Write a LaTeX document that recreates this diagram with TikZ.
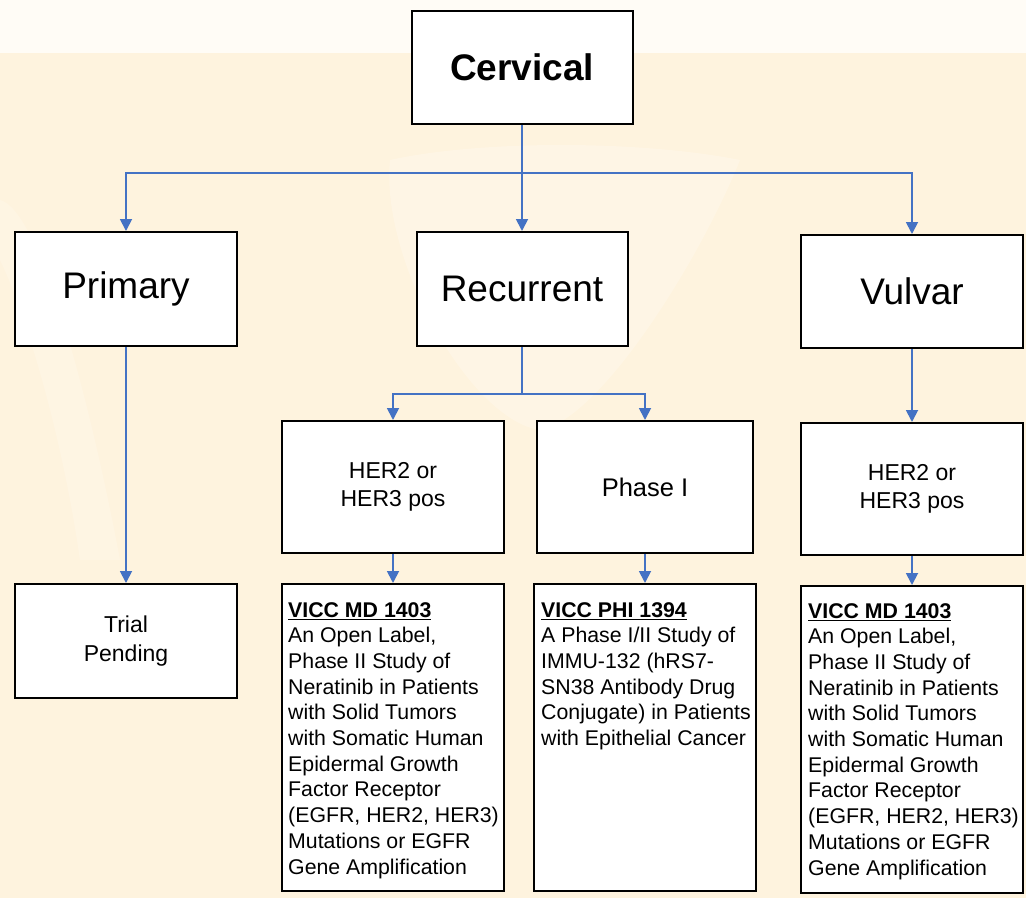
\documentclass[tikz,border=0pt]{standalone}
\usepackage{fontspec}
\setmainfont{Liberation Sans}
\usetikzlibrary{arrows.meta}
\definecolor{bgbeige}{HTML}{FEF3DE}
\definecolor{bgtop}{HTML}{FFFCF6}
\definecolor{connblue}{HTML}{4472C4}
\begin{document}
\begin{tikzpicture}[x=1pt,y=-1pt,
  box/.style={draw=black, line width=2pt, fill=white, inner sep=0pt, align=center},
  conn/.style={draw=connblue, line width=1.8pt, -{Triangle[length=12pt,width=12pt]}},
  bigtxt/.style={font=\fontsize{37}{44}\selectfont},
  midtxt/.style={font=\fontsize{23}{28.6}\selectfont},
  bodytxt/.style={font=\fontsize{21.3}{25.7}\selectfont, align=left, anchor=north west, inner sep=0pt}]
\useasboundingbox (0,0) rectangle (1026,898);
% background
\fill[bgbeige] (0,0) rectangle (1026,898);
\fill[bgtop] (0,0) rectangle (1026,53);
\fill[white, opacity=0.22] (390,160) .. controls (380,260) and (470,420) .. (540,430) .. controls (600,420) and (700,260) .. (740,160) .. controls (640,140) and (480,140) .. (390,160) -- cycle;
\fill[white, opacity=0.18] (0,200) .. controls (40,210) and (90,400) .. (120,560) -- (80,560) .. controls (60,420) and (20,300) .. (0,260) -- cycle;

% boxes
\node[box, minimum width=221, minimum height=113, font=\fontsize{37}{44}\selectfont\bfseries] (cerv) at (522,67.5) {Cervical};
\node[box, bigtxt, minimum width=222, minimum height=114] (prim) at (126,289) {Primary};
\node[box, bigtxt, minimum width=211, minimum height=114] (rec) at (522,289) {Recurrent};
\node[box, bigtxt, minimum width=222, minimum height=113] (vul) at (912,291.5) {Vulvar};

\node[box, midtxt, minimum width=222, minimum height=132] (her1) at (393,487) {HER2 or\\HER3 pos};
\node[box, font=\fontsize{25.5}{30}\selectfont, minimum width=216, minimum height=132] (ph) at (645,487) {Phase I};
\node[box, midtxt, minimum width=222, minimum height=132] (her3) at (912,489) {HER2 or\\HER3 pos};

\node[box, font=\fontsize{23}{29.5}\selectfont, minimum width=222, minimum height=114] (trial) at (126,641) {Trial\\Pending};
\node[box, minimum width=222, minimum height=307] (md1) at (393,737.5) {};
\node[box, minimum width=222, minimum height=307] (phi) at (645,737.5) {};
\node[box, minimum width=222, minimum height=307] (md2) at (912,739.5) {};

\node[bodytxt] (md1t) at (288,602) {\underline{\textbf{VICC MD 1403}}\\An Open Label,\\Phase II Study of\\Neratinib in Patients\\with Solid Tumors\\with Somatic Human\\Epidermal Growth\\Factor Receptor\\(EGFR, HER2, HER3)\\Mutations or EGFR\\Gene Amplification};
\node[bodytxt] (phit) at (541,602) {\underline{\textbf{VICC PHI 1394}}\\A Phase I/II Study of\\IMMU-132 (hRS7-\\SN38 Antibody Drug\\Conjugate) in Patients\\with Epithelial Cancer};
\node[bodytxt] (md2t) at (808,603) {\underline{\textbf{VICC MD 1403}}\\An Open Label,\\Phase II Study of\\Neratinib in Patients\\with Solid Tumors\\with Somatic Human\\Epidermal Growth\\Factor Receptor\\(EGFR, HER2, HER3)\\Mutations or EGFR\\Gene Amplification};

% connectors
\coordinate (j1) at (522,173);
\coordinate (j2) at (522,394);
\draw[conn] (cerv.south) -- (j1) -| (prim.north);
\draw[conn] (cerv.south) -- (rec.north);
\draw[conn] (j1) -| (vul.north);
\draw[conn] (rec.south) -- (j2) -| (her1.north);
\draw[conn] (j2) -| (ph.north);
\draw[conn] (vul.south) -- (her3.north);
\draw[conn] (prim.south) -- (trial.north);
\draw[conn] (her1.south) -- (md1.north);
\draw[conn] (ph.south) -- (phi.north);
\draw[conn] (her3.south) -- (md2.north);
\end{tikzpicture}
\end{document}
